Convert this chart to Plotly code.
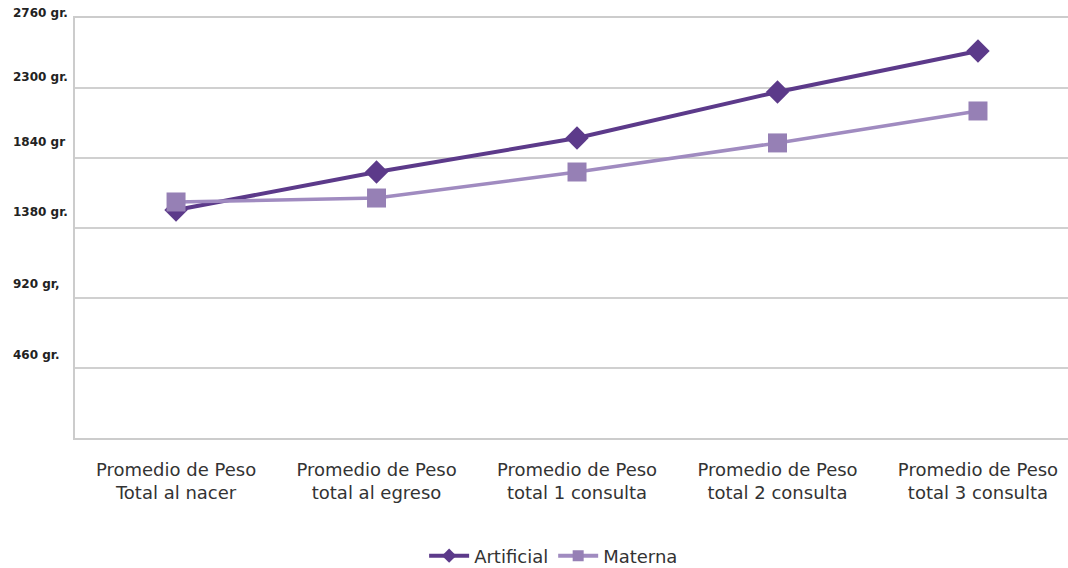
import plotly.graph_objects as go

categories = [
    "Promedio de Peso<br>Total al nacer",
    "Promedio de Peso<br>total al egreso",
    "Promedio de Peso<br>total 1 consulta",
    "Promedio de Peso<br>total 2 consulta",
    "Promedio de Peso<br>total 3 consulta",
]
artificial = [1498, 1748, 1971, 2274, 2543]
materna = [1551, 1577, 1748, 1939, 2149]

y_tick_vals = [2760, 2300, 1840, 1380, 920, 460]
y_tick_text = ["2760 gr.", "2300 gr.", "1840 gr", "1380 gr.", "920 gr,", "460 gr."]
y_label_shift = [5, 11, 16, 16, 14, 13]

ART_COLOR = "#5c3a8a"
MAT_LINE = "#a08bc0"
MAT_MARK = "#9680b5"

fig = go.Figure()
fig.add_trace(go.Scatter(
    x=categories, y=artificial, name="Artificial", mode="lines+markers", showlegend=False,
    line=dict(color=ART_COLOR, width=4),
    marker=dict(symbol="diamond", size=18, color=ART_COLOR),
))
fig.add_trace(go.Scatter(
    x=categories, y=materna, name="Materna", mode="lines+markers", showlegend=False,
    line=dict(color=MAT_LINE, width=3.5),
    marker=dict(symbol="square", size=19, color=MAT_MARK),
))
# legend-only entries with smaller symbols
fig.add_trace(go.Scatter(
    x=[None], y=[None], name="Artificial", mode="lines+markers",
    line=dict(color=ART_COLOR, width=4),
    marker=dict(symbol="diamond", size=11, color=ART_COLOR),
))
fig.add_trace(go.Scatter(
    x=[None], y=[None], name="Materna", mode="lines+markers",
    line=dict(color=MAT_LINE, width=4),
    marker=dict(symbol="square", size=11, color=MAT_MARK),
))

for v, t, s in zip(y_tick_vals, y_tick_text, y_label_shift):
    fig.add_annotation(
        x=0, xref="paper", y=v, yref="y", text=t, showarrow=False,
        xanchor="left", yanchor="middle", xshift=-64, yshift=s,
        font=dict(family="DejaVu Sans", size=12, color="#222222", weight="bold"),
    )

fig.update_layout(
    width=1068, height=568,
    margin=dict(l=75, r=0, t=18, b=130, autoexpand=False),
    paper_bgcolor="white", plot_bgcolor="white",
    font=dict(family="DejaVu Sans", color="#333333"),
    showlegend=True,
    legend=dict(orientation="h", x=0.482, xanchor="center", y=-0.281, yanchor="middle",
                font=dict(size=18, color="#333333"), itemwidth=40, tracegroupgap=0),
    xaxis=dict(
        range=[-0.504, 4.449], showgrid=False, zeroline=False, automargin=False,
        showline=True, linecolor="#cccccc", linewidth=2, mirror=True,
        tickfont=dict(size=18, color="#333333"), ticks="", ticklabelstandoff=14,
    ),
    yaxis=dict(
        range=[0, 2760], tickvals=y_tick_vals + [0], showticklabels=False, automargin=False,
        showgrid=True, gridcolor="#d0d0d0", gridwidth=1.5,
        zeroline=False, showline=True, linecolor="#cccccc", linewidth=2,
    ),
)

fig.write_html(
    "out.html",
    config={"displayModeBar": False},
    post_script="document.body.style.margin='0px';document.body.style.overflow='hidden';",
)
